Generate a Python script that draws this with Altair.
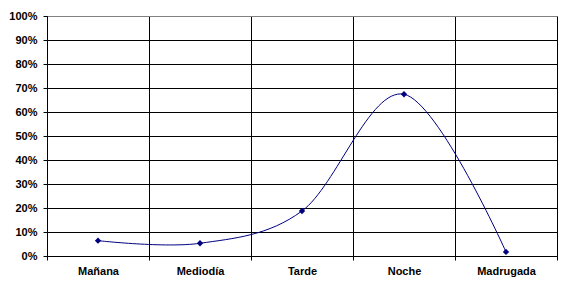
import altair as alt
import pandas as pd

periods = ["Mañana", "Mediodía", "Tarde", "Noche", "Madrugada"]
shares = [0.064, 0.053, 0.1875, 0.674, 0.017]
y_ticks = [0, 0.1, 0.2, 0.3, 0.4, 0.5, 0.6, 0.7, 0.8, 0.9, 1.0]

df = pd.DataFrame({"periodo": periods, "valor": shares})

FONT = "Liberation Sans"
NAVY = "#000080"

x_enc = alt.X(
    "periodo:N",
    sort=periods,
    title=None,
    scale=alt.Scale(paddingInner=0, paddingOuter=0),
    axis=alt.Axis(
        tickBand="extent",
        grid=True,
        gridColor="black",
        gridWidth=1,
        domainColor="black",
        tickColor="black",
        tickSize=4,
        labelAngle=0,
        labelFont=FONT,
        labelFontSize=11,
        labelFontWeight="bold",
        labelColor="black",
        labelPadding=5,
    ),
)
y_enc = alt.Y(
    "valor:Q",
    title=None,
    scale=alt.Scale(domain=[0, 1], nice=False),
    axis=alt.Axis(
        values=y_ticks,
        format=".0%",
        grid=True,
        gridColor=alt.condition("datum.value >= 1", alt.value("#808080"), alt.value("black")),
        gridWidth=1,
        domainColor="black",
        tickColor="black",
        tickSize=4,
        labelFont=FONT,
        labelFontSize=11,
        labelFontWeight="bold",
        labelColor="black",
        labelPadding=6,
    ),
)

line = alt.Chart(df).mark_line(
    color=NAVY, strokeWidth=1, interpolate="cardinal"
).encode(x=x_enc, y=y_enc)

points = alt.Chart(df).mark_point(
    shape="diamond", filled=True, color=NAVY, size=40, opacity=1
).encode(x=x_enc, y=y_enc)

chart = (
    alt.layer(line, points)
    .properties(
        width=510,
        height=240,
        autosize=alt.AutoSizeParams(type="none"),
        padding={"left": 47, "top": 16, "right": 5, "bottom": 32},
        background="white",
    )
    .configure_view(stroke="#808080", strokeWidth=1)
)

chart.save("out.html", embed_options={"renderer": "svg", "actions": False})
